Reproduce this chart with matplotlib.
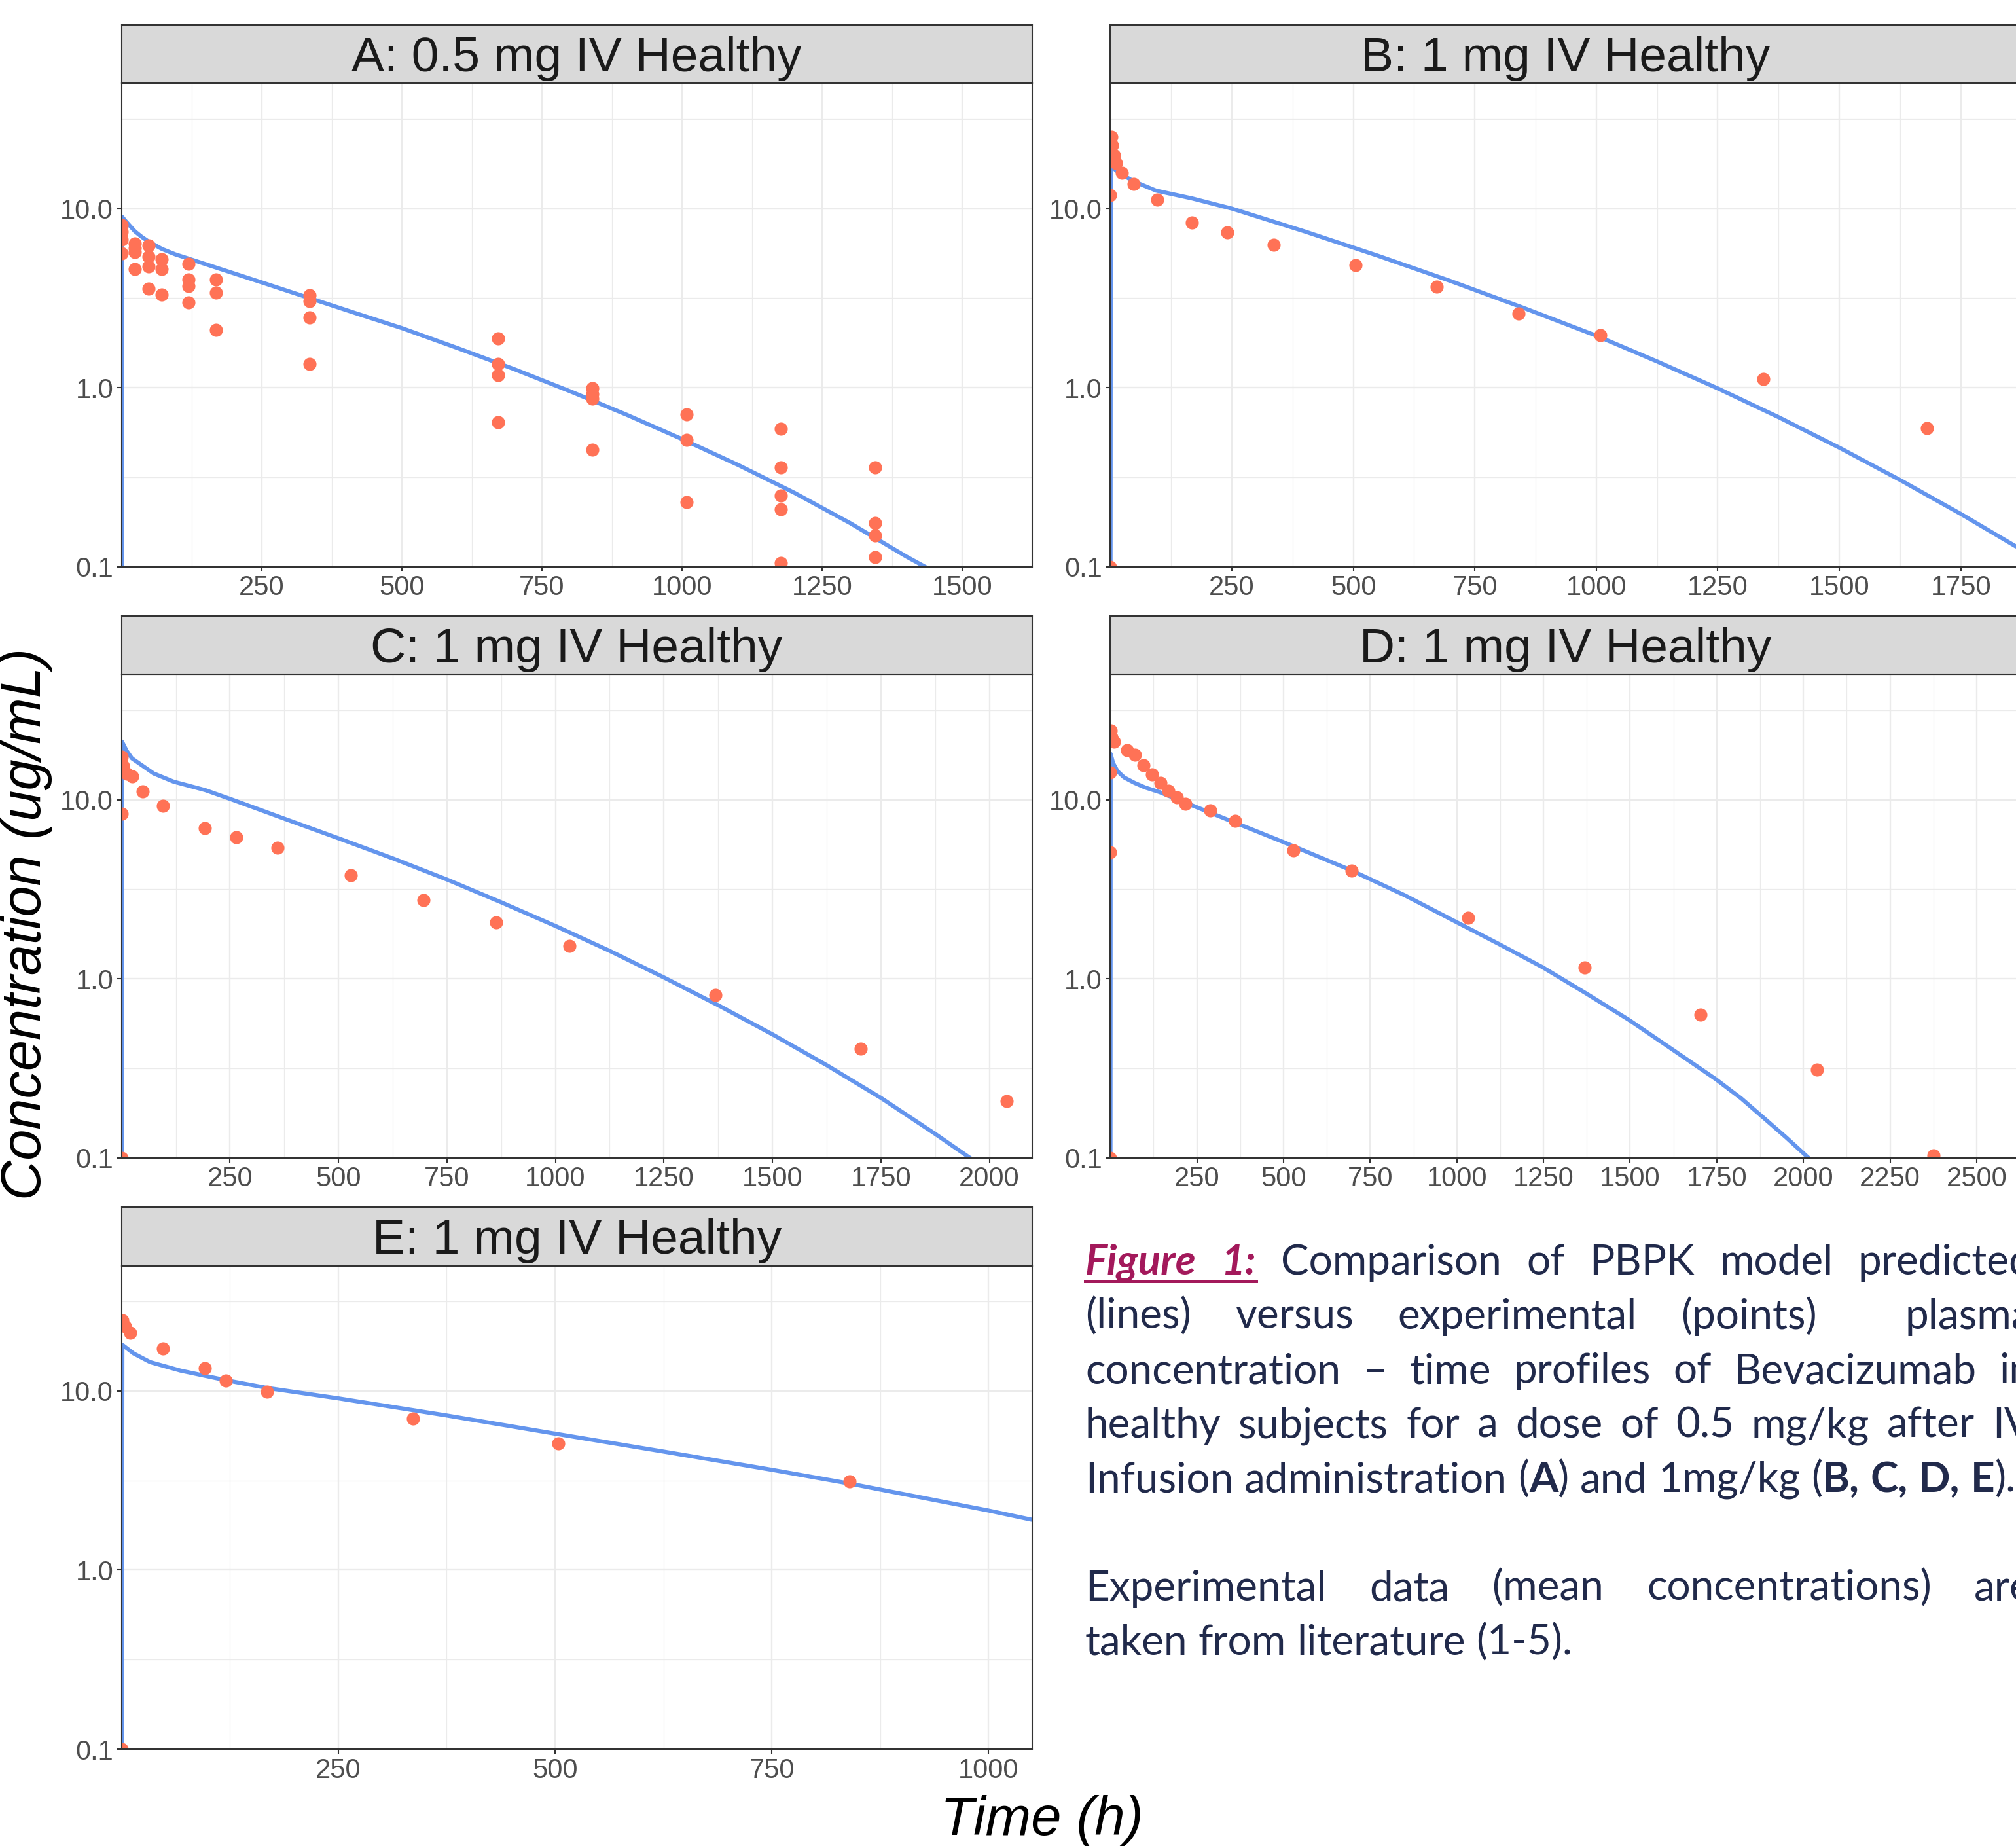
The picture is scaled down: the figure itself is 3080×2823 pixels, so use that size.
import re
import matplotlib
matplotlib.use('Agg')
import matplotlib.pyplot as plt
from matplotlib.ticker import NullFormatter
from matplotlib.lines import Line2D

W, H = 3080, 2823

# ---- data (time in h, concentration in ug/mL) ----
titles = ['A: 0.5 mg IV Healthy', 'B: 1 mg IV Healthy', 'C: 1 mg IV Healthy',
          'D: 1 mg IV Healthy', 'E: 1 mg IV Healthy']
x_max = [1624, 1873, 2098, 2627, 1050]

a_obs_t = [0, 0, 0, 0, 24, 24, 24, 24, 48, 48, 48, 48, 72, 72, 72,
           120, 120, 120, 120, 168, 168, 168, 336, 336, 336, 336,
           672, 672, 672, 672, 840, 840, 840, 840, 1008, 1008, 1008,
           1176, 1176, 1176, 1176, 1176, 1344, 1344, 1344, 1344]
a_obs_c = [8.1, 7.4, 6.7, 5.6, 6.4, 6.0, 5.7, 4.6, 6.2, 5.4, 4.75, 3.57, 5.2, 4.6, 3.3,
           4.93, 4.0, 3.68, 3.0, 4.0, 3.4, 2.1, 3.27, 3.04, 2.47, 1.36,
           1.89, 1.35, 1.17, 0.64, 0.99, 0.92, 0.87, 0.45, 0.71, 0.51, 0.23,
           0.59, 0.36, 0.25, 0.21, 0.105, 0.36, 0.175, 0.15, 0.113]
a_sim_t = [0, 1, 6, 12, 24, 36, 48, 72, 96, 120, 168, 250, 337, 420, 500, 600, 700,
           800, 900, 1000, 1100, 1200, 1300, 1400, 1460]
a_sim_c = [0.001, 9.0, 8.6, 8.2, 7.45, 6.95, 6.55, 5.95, 5.55, 5.25, 4.69, 3.87, 3.15,
           2.59, 2.15, 1.66, 1.27, 0.955, 0.708, 0.516, 0.370, 0.259, 0.175, 0.114, 0.09]

b_obs_t = [0, 0, 2, 4, 8, 12, 24, 48, 96, 168, 240, 336, 504, 672, 840, 1008, 1344, 1680]
b_obs_c = [11.9, 0.1, 25.1, 22.5, 19.9, 17.9, 15.9, 13.7, 11.2, 8.37, 7.35, 6.27, 4.83,
           3.67, 2.60, 1.96, 1.12, 0.596]
b_sim_t = [0, 1, 12, 24, 48, 94, 168, 250, 400, 550, 700, 850, 1000, 1125, 1250, 1375,
           1500, 1625, 1750, 1880]
b_sim_c = [0.001, 17.5, 16.3, 15.5, 14.2, 12.6, 11.4, 10.0, 7.45, 5.46, 3.94, 2.79, 1.95,
           1.40, 0.99, 0.684, 0.462, 0.305, 0.197, 0.122]

c_obs_t = [0, 0, 1, 4, 12, 24, 48, 96, 192, 264, 360, 528, 696, 864, 1032, 1368, 1704, 2040]
c_obs_c = [8.32, 0.1, 17.4, 15.4, 14.0, 13.5, 11.1, 9.21, 6.96, 6.17, 5.39, 3.77, 2.75,
           2.07, 1.52, 0.81, 0.405, 0.207]
c_sim_t = [0, 1, 12, 24, 74, 120, 193, 250, 375, 500, 625, 750, 875, 1000, 1125, 1250,
           1375, 1500, 1625, 1750, 1875, 1960]
c_sim_c = [0.001, 21.1, 18.7, 17.0, 14.0, 12.6, 11.3, 10.1, 7.83, 6.08, 4.70, 3.58, 2.67,
           1.97, 1.43, 1.016, 0.711, 0.489, 0.329, 0.216, 0.136, 0.098]

d_obs_t = [0, 0, 0, 1, 4, 10, 48, 72, 96, 120, 144, 168, 192, 216, 288, 360, 528, 696,
           1032, 1368, 1704, 2040, 2376]
d_obs_c = [14.2, 5.08, 0.1, 24.4, 22.4, 21.1, 18.9, 17.8, 15.5, 13.8, 12.4, 11.2, 10.3,
           9.5, 8.7, 7.6, 5.2, 4.01, 2.19, 1.15, 0.63, 0.311, 0.103]
d_sim_t = [0, 1, 8, 21, 40, 70, 100, 143, 214, 285, 358, 497, 694, 850, 997, 1122, 1247,
           1372, 1496, 1620, 1747, 1820, 1884, 1950, 2012, 2030]
d_sim_c = [0.001, 18.0, 16.0, 14.4, 13.3, 12.4, 11.7, 11.0, 9.66, 8.51, 7.46, 5.82, 4.04,
           2.92, 2.08, 1.56, 1.16, 0.83, 0.59, 0.405, 0.275, 0.215, 0.168, 0.13, 0.101, 0.094]

e_obs_t = [0, 1, 4, 10, 48, 96, 120, 168, 336, 504, 840]
e_obs_c = [0.1, 24.7, 22.9, 21.1, 17.3, 13.4, 11.4, 9.9, 7.03, 5.11, 3.13]
e_sim_t = [0, 1, 14, 33, 68, 120, 168, 250, 375, 500, 625, 750, 840, 1000, 1050]
e_sim_c = [0.001, 18.1, 16.2, 14.5, 13.0, 11.5, 10.4, 9.1, 7.3, 5.78, 4.59, 3.63, 3.04,
           2.15, 1.91]

obs = [(a_obs_t, a_obs_c), (b_obs_t, b_obs_c), (c_obs_t, c_obs_c), (d_obs_t, d_obs_c), (e_obs_t, e_obs_c)]
sim = [(a_sim_t, a_sim_c), (b_sim_t, b_sim_c), (c_sim_t, c_sim_c), (d_sim_t, d_sim_c), (e_sim_t, e_sim_c)]

caption_lines = [
    ('##Figure 1:## Comparison of PBPK model predicted', True),
    ('(lines) versus experimental (points)  plasma', True),
    ('concentration \u2013 time profiles of Bevacizumab in', True),
    ('healthy subjects for a dose of 0.5 mg/kg after IV', True),
    ('Infusion administration (**A**) and 1mg/kg (**B, C, D, E**).', False),
    ('', False),
    ('Experimental data (mean concentrations) are', True),
    ('taken from literature (1-5).', False),
]

# ---- layout (pixels) ----
col_left = [185.7, 1696.3]
panel_w = 1390.8
panel_h = 738.3
strip_h = 89.5
row_bottom = [865.7, 1768.6, 2672.0]
slots = [(0, 0), (1, 0), (0, 1), (1, 1), (0, 2)]

pt_col = '#FF7256'
line_col = '#6495ED'
border = '#333333'
grid = '#EBEBEB'

fig = plt.figure(figsize=(W / 100, H / 100), dpi=100)
fig.patch.set_facecolor('white')


def px_axes(left, top, width, height):
    return fig.add_axes([left / W, 1 - (top + height) / H, width / W, height / H])


for i in range(5):
    col, row = slots[i]
    left = col_left[col]
    bottom = row_bottom[row]
    top = bottom - panel_h
    ax = px_axes(left, top, panel_w, panel_h)
    ax.set_yscale('log')
    ax.plot(sim[i][0], sim[i][1], color=line_col, lw=4.5, zorder=2, solid_capstyle='butt',
            solid_joinstyle='round')
    ax.scatter(obs[i][0], obs[i][1], s=210, color=pt_col, linewidths=0, zorder=3)
    ax.set_xlim(0, x_max[i])
    ax.set_ylim(0.1, 50)
    ax.set_yticks([0.1, 1, 10])
    ax.set_yticklabels(['0.1', '1.0', '10.0'])
    ax.set_yticks([0.316, 3.16, 31.6], minor=True)
    ax.yaxis.set_minor_formatter(NullFormatter())
    ax.set_xticks(list(range(250, x_max[i], 250)))
    ax.set_xticks(list(range(125, x_max[i], 250)), minor=True)
    ax.xaxis.set_minor_formatter(NullFormatter())
    ax.grid(which='major', color=grid, lw=1.7)
    ax.grid(which='minor', color=grid, lw=0.9)
    ax.set_axisbelow(True)
    ax.tick_params(which='major', length=5, width=1.5, color=border, labelsize=30,
                   labelcolor='#4D4D4D', pad=4)
    ax.tick_params(which='minor', length=0)
    for lab in ax.get_xticklabels() + ax.get_yticklabels():
        lab.set_family('Liberation Sans')
    for sp in ax.spines.values():
        sp.set_color(border)
        sp.set_linewidth(1.5)
        sp.set_zorder(4)

    sax = px_axes(left, top - strip_h, panel_w, strip_h)
    sax.set_facecolor('#D9D9D9')
    sax.set_xticks([])
    sax.set_yticks([])
    for sp in sax.spines.values():
        sp.set_color(border)
        sp.set_linewidth(1.5)
    sax.text(0.5, 0.205, titles[i], ha='center', va='baseline', fontsize=54,
             family='Liberation Sans', color='#1A1A1A', transform=sax.transAxes)

fig.text(0.0, 0.5, 'Concentration (ug/mL)', rotation=90, ha='left', va='center',
         fontsize=61, style='italic', family='Liberation Sans', color='black')
fig.text(1592 / W, 1 - 2803 / H, 'Time (h)', ha='center', va='baseline',
         fontsize=60, style='italic', family='Liberation Sans', color='black')

# ---- caption, justified word by word ----
renderer = fig.canvas.get_renderer()
cap_size = 46
cap_col = '#212A4B'
fig_col = '#A3195B'
styles = {
    'n': dict(weight='normal', style='normal', color=cap_col),
    'b': dict(weight='bold', style='normal', color=cap_col),
    'f': dict(weight='bold', style='italic', color=fig_col),
}


def measure(txt, st):
    t = fig.text(0, 0, txt, fontsize=cap_size, family='Lato', **styles[st])
    w = t.get_window_extent(renderer).width
    t.remove()
    return w


space_w = measure('x x', 'n') - measure('xx', 'n')
cap_left = 1658
cap_right = 3105
baseline0 = 1947
line_step = 83

for li, (line, justify) in enumerate(caption_lines):
    if not line:
        continue
    words = [[]]
    st = 'n'
    for tok in re.split(r'(\*\*|##)', line):
        if tok == '**':
            st = 'b' if st == 'n' else 'n'
            continue
        if tok == '##':
            st = 'f' if st == 'n' else 'n'
            continue
        parts = tok.split(' ')
        for k, p in enumerate(parts):
            if k > 0:
                words.append([])
            if p:
                words[-1].append((p, st))
    widths = [sum(measure(p, s) for p, s in w) for w in words]
    if justify and len(words) > 1:
        gap = (cap_right - cap_left - sum(widths)) / (len(words) - 1)
    else:
        gap = space_w
    y = 1 - (baseline0 + li * line_step) / H
    x = cap_left
    fig_start = fig_end = None
    for w, wd in zip(words, widths):
        xx = x
        for p, s in w:
            fig.text(xx / W, y, p, fontsize=cap_size, family='Lato', va='baseline',
                     ha='left', **styles[s])
            if s == 'f':
                if fig_start is None:
                    fig_start = xx
                fig_end = xx + measure(p, s)
            xx += measure(p, s)
        x += wd + gap
    if fig_start is not None:
        uy = 1 - (baseline0 + li * line_step + 10) / H
        fig.add_artist(Line2D([fig_start / W, fig_end / W], [uy, uy], color=fig_col,
                              lw=3.6, transform=fig.transFigure))

fig.savefig('out.png', dpi=100)
